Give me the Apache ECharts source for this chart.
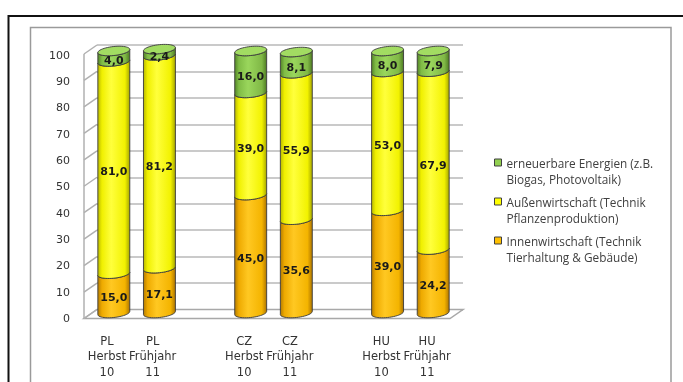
<!DOCTYPE html>
<html>
<head>
<meta charset="utf-8">
<script src="https://cdn.jsdelivr.net/npm/echarts@6/dist/echarts.min.js"></script>
<style>
  html, body { margin: 0; padding: 0; background: #ffffff; }
  #chart { width: 683px; height: 382px; }
</style>
</head>
<body>
<div id="chart"></div>
<script>
// Category slots: empty strings keep a gap between the country pairs
const categories = ['PL\nHerbst\n10', 'PL\nFrühjahr\n11', '', 'CZ\nHerbst\n10', 'CZ\nFrühjahr\n11', '', 'HU\nHerbst\n10', 'HU\nFrühjahr\n11'];
const innenwirtschaft = [15.0, 17.1, null, 45.0, 35.6, null, 39.0, 24.2];
const aussenwirtschaft = [81.0, 81.2, null, 39.0, 55.9, null, 53.0, 67.9];
const erneuerbar = [4.0, 2.4, null, 16.0, 8.1, null, 8.0, 7.9];
const yTicks = [0, 10, 20, 30, 40, 50, 60, 70, 80, 90, 100];
const seriesNames = [
  'Innenwirtschaft (Technik\nTierhaltung & Gebäude)',
  'Außenwirtschaft (Technik\nPflanzenproduktion)',
  'erneuerbare Energien (z.B.\nBiogas, Photovoltaik)'
];

const FONT = '"DejaVu Sans", Verdana, sans-serif';
const DX = 13, DY = 9;          // depth offset of the 3D box
const TILT = 0.1;               // slant of the cylinder ellipses
const RY = 4.5;                 // ellipse half height

const palettes = [
  { base: '#ffc000', top: '#ffd040',
    stops: ['#b07800', '#eeaa00', '#ffc822', '#f4b400', '#a87000'] },
  { base: '#ffff00', top: '#ffff60',
    stops: ['#b4b400', '#f0f000', '#ffff3c', '#f2f200', '#a0a000'] },
  { base: '#92d050', top: '#a2dc62',
    stops: ['#4f7f24', '#80bc46', '#9ad65c', '#80b846', '#4a7620'] }
];

function gradient(stops) {
  const pos = [0, 0.14, 0.42, 0.84, 1];
  return {
    type: 'linear', x: 0, y: 0, x2: 1, y2: 0,
    colorStops: stops.map((c, i) => ({ offset: pos[i], color: c }))
  };
}

function ellipsePts(cx, cy, rx, ry, a0, a1, n) {
  const pts = [];
  for (let j = 0; j <= n; j++) {
    const t = a0 + (a1 - a0) * j / n;
    const c = Math.cos(t), s = Math.sin(t);
    pts.push([cx + rx * c, cy + ry * s - TILT * rx * c]);
  }
  return pts;
}

function fmt(v) { return v.toFixed(1).replace('.', ','); }

// stacked layers with their bases
const layers = [innenwirtschaft, aussenwirtschaft, erneuerbar];
const layerData = layers.map((arr, li) => arr.map((v, i) => {
  if (v == null) return [i, 0, '-'];
  let base = 0;
  for (let k = 0; k < li; k++) base += layers[k][i] || 0;
  return [i, base, v];
}));

function cylinderRenderer(li) {
  const pal = palettes[li];
  const isTop = li === layers.length - 1;
  return function (params, api) {
    const v = api.value(2);
    if (v === '-' || v == null || isNaN(v)) return;
    const i = api.value(0), base = api.value(1);
    const pB = api.coord([i, base]);
    const pT = api.coord([i, base + v]);
    const w = api.size([1, 0])[0] * 0.70;
    const rx = w / 2, cx = pB[0];
    const body = ellipsePts(cx, pB[1], rx, RY, Math.PI, 0, 24)
      .concat(ellipsePts(cx, pT[1], rx, RY, 0, Math.PI, 24));
    const children = [{
      type: 'polygon',
      shape: { points: body },
      style: { fill: gradient(pal.stops), stroke: '#3a3a3a', lineWidth: 0.9 }
    }];
    if (isTop) {
      children.push({
        type: 'polygon',
        shape: { points: ellipsePts(cx, pT[1], rx, RY, 0, Math.PI * 2, 48) },
        style: { fill: pal.top, stroke: '#3a3a3a', lineWidth: 0.9 }
      });
    }
    children.push({
      type: 'text',
      z2: 50,
      style: {
        x: cx, y: (pT[1] + pB[1]) / 2 + 5,
        text: fmt(v),
        font: 'bold 11px ' + FONT,
        fill: '#1a1a1a',
        align: 'center', verticalAlign: 'middle'
      }
    });
    return { type: 'group', children: children };
  };
}

// walls and floor of the 3D box, drawn on the back-wall grid
function frameRenderer(params, api) {
  const bl = api.coord([0, 0]);
  const br = api.coord([1, 0]);
  const tl = api.coord([0, 100]);
  const lineStyle = { stroke: '#b0b0b0', lineWidth: 1.5 };
  const children = [{
    type: 'polygon',
    shape: { points: [bl, br, [br[0] - DX, br[1] + DY], [bl[0] - DX, bl[1] + DY]] },
    style: { fill: '#ffffff', stroke: '#a8a8a8', lineWidth: 1.5 }
  }, {
    type: 'line',
    shape: { x1: tl[0] - DX, y1: tl[1] + DY, x2: bl[0] - DX, y2: bl[1] + DY },
    style: lineStyle
  }];
  yTicks.forEach(t => {
    const p = api.coord([0, t]);
    children.push({
      type: 'line',
      shape: { x1: p[0], y1: p[1], x2: p[0] - DX, y2: p[1] + DY },
      style: lineStyle
    });
  });
  return { type: 'group', children: children };
}

const chart = echarts.init(document.getElementById('chart'), null, { renderer: 'canvas' });

const legendIcon = 'path://M0,4h7v7h-7zM0,32L0,32';

chart.setOption({
  backgroundColor: '#ffffff',
  animation: false,
  graphic: [
    { type: 'rect', shape: { x: 8.5, y: 16, width: 700, height: 400 },
      style: { fill: 'none', stroke: '#111111', lineWidth: 2 }, silent: true, z: 0 },
    { type: 'rect', shape: { x: 30.5, y: 27.5, width: 640.5, height: 400 },
      style: { fill: 'none', stroke: '#9a9a9a', lineWidth: 1.5 }, silent: true, z: 0 }
  ],
  grid: [
    { left: 91, top: 51, width: 365, height: 262 },   // cylinders
    { left: 97, top: 45, width: 366, height: 264.5 }, // back wall
    { left: 84, top: 56, width: 366, height: 263 }    // front labels
  ],
  xAxis: [
    { gridIndex: 0, type: 'category', data: categories, show: false },
    { gridIndex: 1, type: 'value', min: 0, max: 1, show: false },
    { gridIndex: 2, type: 'category', data: categories,
      axisLine: { show: false }, axisTick: { show: false },
      axisLabel: { interval: 0, margin: 15, color: '#333333', fontFamily: FONT,
        fontSize: 11.5, lineHeight: 15.5 } }
  ],
  yAxis: [
    { gridIndex: 0, type: 'value', min: 0, max: 100, show: false },
    { gridIndex: 1, type: 'value', min: 0, max: 100, interval: 10,
      axisLine: { show: false }, axisTick: { show: false }, axisLabel: { show: false },
      splitLine: { lineStyle: { color: '#b8b8b8', width: 1.5 } } },
    { gridIndex: 2, type: 'value', min: 0, max: 100, interval: 10,
      axisLine: { show: false }, axisTick: { show: false }, splitLine: { show: false },
      axisLabel: { margin: 14, color: '#333333', fontFamily: FONT, fontSize: 11 } }
  ],
  legend: {
    orient: 'vertical',
    left: 489, top: 152,
    itemWidth: 7, itemHeight: 32, itemGap: 7,
    icon: legendIcon,
    itemStyle: { borderColor: '#404040', borderWidth: 1 },
    data: [seriesNames[2], seriesNames[1], seriesNames[0]],
    textStyle: { fontFamily: '"Open Sans", sans-serif', fontSize: 11.8, lineHeight: 16, color: '#404040' },
    selectedMode: false
  },
  series: [
    {
      type: 'custom', name: 'frame', xAxisIndex: 1, yAxisIndex: 1,
      data: [[0, 0]], renderItem: frameRenderer, silent: true, z: 1, clip: false
    }
  ].concat(layerData.map((d, li) => ({
    type: 'custom',
    name: seriesNames[li],
    xAxisIndex: 0, yAxisIndex: 0,
    itemStyle: { color: palettes[li].base },
    data: d,
    renderItem: cylinderRenderer(li),
    clip: false,
    z: 3 + li
  })))
});
</script>
</body>
</html>
